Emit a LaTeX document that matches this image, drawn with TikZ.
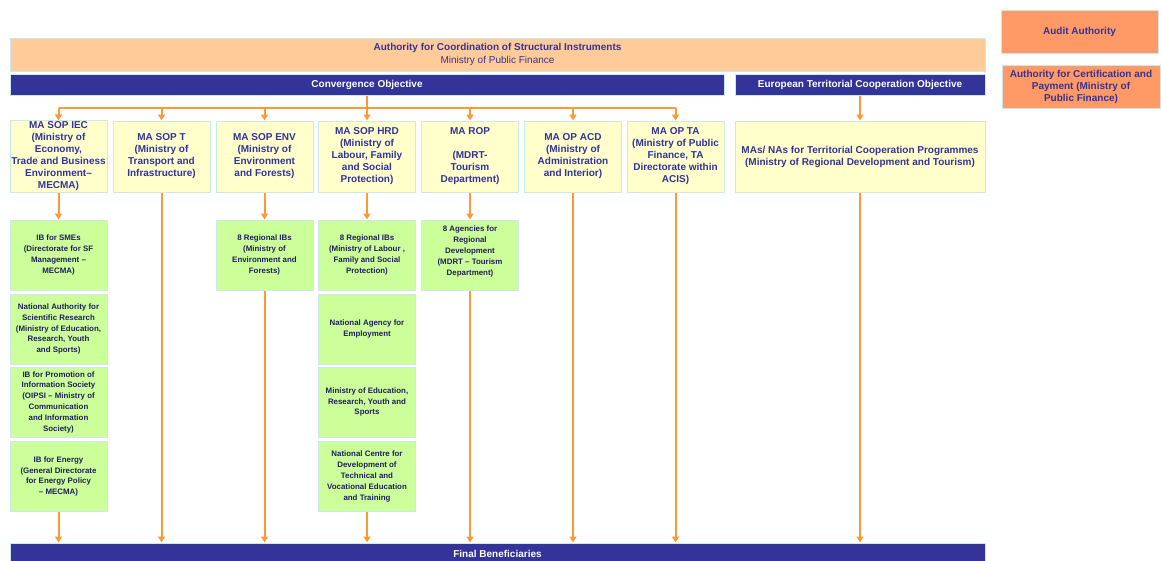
\documentclass[tikz,border=0pt]{standalone}
\usepackage{fontspec}
\setmainfont{Liberation Sans}
\usetikzlibrary{arrows.meta, positioning, calc}
\definecolor{navy}{RGB}{51, 51, 153}
\definecolor{inkdark}{RGB}{30, 30, 92}
\definecolor{peach}{RGB}{255, 204, 153}
\definecolor{salmon}{RGB}{255, 153, 102}
\definecolor{paleyellow}{RGB}{255, 255, 204}
\definecolor{palegreen}{RGB}{204, 255, 153}
\definecolor{rim}{RGB}{204, 232, 232}
\definecolor{flow}{RGB}{255, 153, 51}

\tikzset{
  box/.style={draw=rim, line width=1pt, align=center, inner sep=1pt},
  mabox/.style={box, fill=paleyellow, text=navy, minimum width=97pt, minimum height=71pt,
    font=\fontsize{10}{12}\selectfont\bfseries},
  ibbox/.style={box, fill=palegreen, text=inkdark, minimum width=97pt, minimum height=70pt,
    font=\fontsize{7.9}{10.8}\selectfont\bfseries},
  bar/.style={box, fill=navy, text=white, minimum height=21pt,
    font=\fontsize{10}{12}\selectfont\bfseries},
  authbox/.style={box, fill=salmon, text=navy, minimum height=43pt,
    font=\fontsize{10}{12}\selectfont\bfseries},
  wire/.style={draw=flow, line width=2pt},
  link/.style={wire, -{Triangle[width=7pt,length=6pt]}},
}

\begin{document}
\begin{tikzpicture}[x=1pt, y=-1pt]
  \useasboundingbox (0,0) rectangle (1161,560);

  % authorities
  \node[box, fill=peach, text=navy, minimum width=975pt, minimum height=33pt,
        font=\fontsize{10}{13}\selectfont] (acis) at (497.5,54.5)
        {\textbf{Authority for Coordination of Structural Instruments}\\Ministry of Public Finance};
  \node[authbox, minimum width=157pt] (audit) at (1079.5,31.5) {Audit Authority};
  \node[authbox, minimum width=158pt] (cert) at (1081,86.5)
        {Authority for Certification and\\Payment (Ministry of\\Public Finance)};

  % objectives
  \node[bar, minimum width=714pt] (conv) at (367,84.5) {Convergence Objective};
  \node[bar, minimum width=250pt] (etc) at (860,84.5) {European Territorial Cooperation Objective};

  % managing authorities
  \node[mabox] (sopiec) at (58.5,156.5)
        {MA SOP IEC\\(Ministry of\\Economy,\\Trade and Business\\Environment–\\MECMA)};
  \node[mabox] (sopt) at (161.5,156.5) {MA SOP T\\(Ministry of\\Transport and\\Infrastructure)};
  \node[mabox] (sopenv) at (264.5,156.5) {MA SOP ENV\\(Ministry of\\Environment\\and Forests)};
  \node[mabox] (sophrd) at (367,156.5)
        {MA SOP HRD\\(Ministry of\\Labour, Family\\and Social\\Protection)};
  \node[mabox] (rop) at (470,156.5) {MA ROP\\[12pt](MDRT-\\Tourism\\Department)};
  \node[mabox] (opacd) at (573,156.5) {MA OP ACD\\(Ministry of\\Administration\\and Interior)};
  \node[mabox] (opta) at (675.5,156.5)
        {MA OP TA\\(Ministry of Public\\Finance, TA\\Directorate within\\ACIS)};
  \node[mabox, minimum width=250pt] (etcma) at (860,156.5)
        {MAs/ NAs for Territorial Cooperation Programmes\\(Ministry of Regional Development and Tourism)};

  % intermediate bodies
  \node[ibbox] (ibsme) at (58.5,255) {IB for SMEs\\(Directorate for SF\\Management –\\MECMA)};
  \node[ibbox] (ibresearch) at (58.5,329)
        {National Authority for\\Scientific Research\\(Ministry of Education,\\Research, Youth\\and Sports)};
  \node[ibbox] (ibinfo) at (58.5,402)
        {IB for Promotion of\\Information Society\\(OIPSI – Ministry of\\Communication\\and Information\\Society)};
  \node[ibbox] (ibenergy) at (58.5,476.5)
        {IB for Energy\\(General Directorate\\for Energy Policy\\– MECMA)};
  \node[ibbox] (ibenv) at (264.5,255) {8 Regional IBs\\(Ministry of\\Environment and\\Forests)};
  \node[ibbox] (ibhrd) at (367,255)
        {8 Regional IBs\\(Ministry of Labour ,\\Family and Social\\Protection)};
  \node[ibbox] (ibemploy) at (367,329) {National Agency for\\Employment};
  \node[ibbox] (ibeducation) at (367,402) {Ministry of Education,\\Research, Youth and\\Sports};
  \node[ibbox] (ibvocational) at (367,476.5)
        {National Centre for\\Development of\\Technical and\\Vocational Education\\and Training};
  \node[ibbox] (ibrop) at (470,255)
        {8 Agencies for\\Regional\\Development\\(MDRT – Tourism\\Department)\\[-2pt]~};

  \node[bar, minimum width=975pt, minimum height=22pt] (final) at (497.5,554) {Final Beneficiaries};

  % connectors
  \coordinate (split) at (367,108);
  \draw[wire] (conv.south) -- (split);
  \draw[wire] (sopiec.north |- split) -- (opta.north |- split);
  \foreach \m in {sopiec, sopt, sopenv, sophrd, rop, opacd, opta}
    \draw[link] (\m.north |- split) -- (\m.north);
  \draw[link] (etc.south) -- (etcma.north);

  \foreach \a/\b in {sopiec/ibsme, sopenv/ibenv, sophrd/ibhrd, rop/ibrop}
    \draw[link] (\a.south) -- (\b.north);
  \foreach \n in {ibenergy, sopt, ibenv, ibvocational, ibrop, opacd, opta, etcma}
    \draw[link] (\n.south) -- (\n.south |- final.north);
\end{tikzpicture}
\end{document}
